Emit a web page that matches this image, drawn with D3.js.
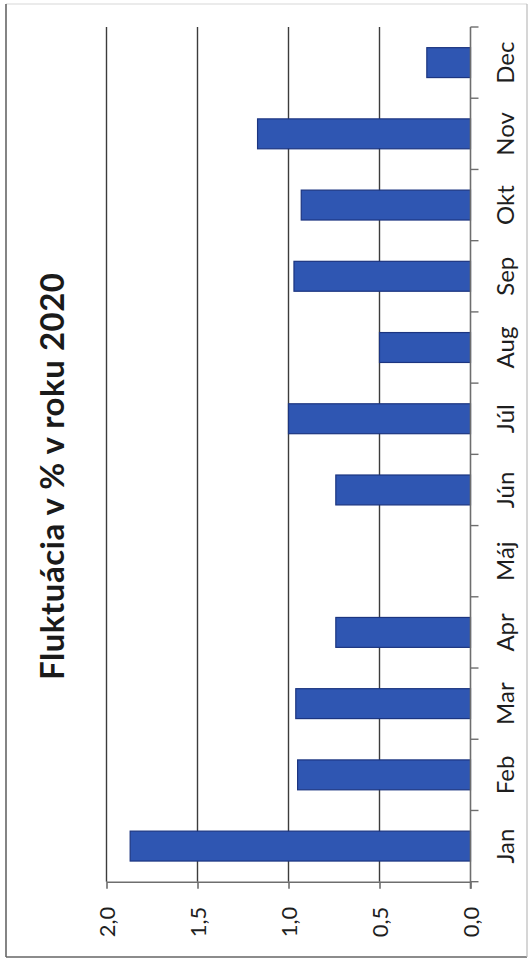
<!DOCTYPE html>
<html>
<head>
<meta charset="utf-8">
<script src="https://cdn.jsdelivr.net/npm/d3@7/dist/d3.min.js"></script>
<style>
html,body{margin:0;padding:0;background:#fff;}
svg{display:block;}
</style>
</head>
<body>
<svg id="chart" width="532" height="971"></svg>
<script>
const categories = ["Jan","Feb","Mar","Apr","Máj","Jún","Júl","Aug","Sep","Okt","Nov","Dec"];
const values = [1.87, 0.95, 0.96, 0.74, 0, 0.74, 1.0, 0.5, 0.97, 0.93, 1.17, 0.24];
const valueTicks = [0, 0.5, 1.0, 1.5, 2.0];
const title = "Fluktuácia v % v roku 2020";

const svg = d3.select("#chart");
const font = "Lato, 'Open Sans', sans-serif";

// frame
svg.append("line").attr("x1",6).attr("x2",527).attr("y1",4).attr("y2",4).attr("stroke","#d8d8d8").attr("stroke-width",1.2);
svg.append("line").attr("x1",6).attr("x2",6).attr("y1",4).attr("y2",957).attr("stroke","#666").attr("stroke-width",1.6);
svg.append("line").attr("x1",6).attr("x2",527).attr("y1",957).attr("y2",957).attr("stroke","#666").attr("stroke-width",1.6);
svg.append("line").attr("x1",527).attr("x2",527).attr("y1",4).attr("y2",957).attr("stroke","#bbb").attr("stroke-width",1.2);

const plotTop = 27, plotBottom = 881.7;
const x = d3.scaleLinear().domain([0, 2]).range([470.5, 106.5]);
const y = d3.scaleBand().domain(categories.slice().reverse()).range([plotTop, plotBottom])
  .paddingInner(0.58).paddingOuter(0.29);

// gridlines
svg.append("g").selectAll("line").data(valueTicks.filter(d => d > 0)).join("line")
  .attr("x1", d => x(d)).attr("x2", d => x(d))
  .attr("y1", plotTop).attr("y2", plotBottom)
  .attr("stroke", "#3c3c3c").attr("stroke-width", 1.4);

// bars
svg.append("g").selectAll("rect").data(categories.map((c,i)=>({c, v: values[i]})).filter(d => d.v > 0)).join("rect")
  .attr("x", d => x(d.v)).attr("width", d => x(0) - x(d.v))
  .attr("y", d => y(d.c)).attr("height", y.bandwidth())
  .attr("fill", "#2f56b2").attr("stroke", "#1c3580").attr("stroke-width", 1.2);

// value axis (bottom)
const xAxis = d3.axisBottom(x).tickValues(valueTicks).tickSize(7).tickSizeOuter(0)
  .tickFormat(d => d.toFixed(1).replace(".", ","));
const gx = svg.append("g").attr("transform", `translate(0,${plotBottom})`).call(xAxis);
gx.select(".domain").attr("stroke", "#6e6e6e").attr("stroke-width", 1.6);
gx.selectAll(".tick line").attr("stroke", "#6e6e6e").attr("stroke-width", 1.6);
gx.selectAll(".tick text")
  .attr("y", null).attr("dy", null)
  .attr("transform", "translate(8,25) rotate(-90)")
  .attr("text-anchor", "end")
  .attr("fill", "#1e1e1e")
  .style("font-family", font).style("font-size", "22px");

// category axis (vertical at zero)
const step = y.step();
const bounds = d3.range(categories.length + 1).map(i => plotTop + i * step);
const gy = svg.append("g");
gy.append("line").attr("x1", x(0)).attr("x2", x(0)).attr("y1", plotTop).attr("y2", plotBottom + 7)
  .attr("stroke", "#6e6e6e").attr("stroke-width", 1.6);
gy.selectAll("line.t").data(bounds).join("line").attr("class","t")
  .attr("x1", x(0)).attr("x2", x(0) + 8).attr("y1", d => d).attr("y2", d => d)
  .attr("stroke", "#6e6e6e").attr("stroke-width", 1.4);
gy.selectAll("text").data(categories).join("text")
  .attr("transform", d => `translate(514,${y(d) + y.bandwidth()/2}) rotate(-90)`)
  .attr("text-anchor", "middle")
  .attr("fill", "#1e1e1e")
  .style("font-family", font).style("font-size", "24px")
  .text(d => d);

// title
svg.append("text")
  .attr("transform", "translate(63.5,476.5) rotate(-90)")
  .attr("text-anchor", "middle")
  .attr("fill", "#1a1a1a")
  .attr("textLength", 407).attr("lengthAdjust", "spacing")
  .style("font-family", font).style("font-weight", "bold").style("font-size", "33px")
  .text(title);
</script>
</body>
</html>
